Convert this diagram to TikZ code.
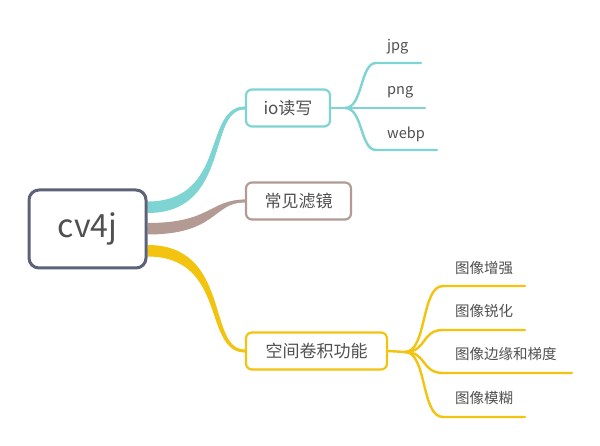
\documentclass[tikz,border=0pt]{standalone}
\usepackage{fontspec}
\setmainfont{Noto Sans CJK SC}
\usetikzlibrary{backgrounds}
\definecolor{cteal}{HTML}{7DD4D2}
\definecolor{cbrown}{HTML}{B39A92}
\definecolor{cyel}{HTML}{F2C30F}
\definecolor{croot}{HTML}{5C6277}
\definecolor{ctext}{HTML}{505050}
\tikzset{
  rootbox/.style={draw=croot, line width=3pt, rounded corners=10pt, fill=white,
    minimum width=117pt, minimum height=78pt, text=ctext, font=\fontsize{32}{32}\selectfont},
  childbox/.style={line width=2.2pt, rounded corners=6pt, fill=white, text=ctext,
    minimum height=37pt, font=\fontsize{17}{17}\selectfont},
  leaftext/.style={anchor=west, inner sep=0pt, text=ctext, font=\fontsize{14.5}{14.5}\selectfont},
  branch/.style={line width=2.4pt, line cap=round},
  trunk/.style={line width=2.8pt},
}
\begin{document}
\begin{tikzpicture}[x=1pt,y=-1pt]
\useasboundingbox (0,0) rectangle (600,446);
% nodes
\node[rootbox] (root) at (87.5,229) {cv4j};
\node[childbox, draw=cteal, minimum width=84pt] (io) at (288,108) {io读写};
\node[childbox, draw=cbrown, minimum width=105pt] (flt) at (298.5,201) {常见滤镜};
\node[childbox, draw=cyel, minimum width=141pt] (conv) at (316.5,351) {空间卷积功能};
% leaf texts
\node[leaftext] (jpg) at (387,47) {jpg};
\node[leaftext] (png) at (387,92) {png};
\node[leaftext] (webp) at (387,134) {webp};
\node[leaftext] (enh) at (455,268) {图像增强};
\node[leaftext] (shp) at (455,311) {图像锐化};
\node[leaftext] (edg) at (455,354) {图像边缘和梯度};
\node[leaftext] (blr) at (455,398) {图像模糊};
% coordinates for leaf lines
\coordinate (iob) at (345,108);
\coordinate (jpgs) at (376,63);  \coordinate (jpge) at (421,63);
\coordinate (pnge) at (425,108);
\coordinate (webs) at (376,150); \coordinate (webe) at (437,150);
\coordinate (cvb) at (405,352);
\coordinate (enhs) at (443,286); \coordinate (enhe) at (525,286);
\coordinate (shps) at (443,330); \coordinate (shpe) at (525,330);
\coordinate (edgs) at (443,373); \coordinate (edge) at (572,373);
\coordinate (blrs) at (443,417); \coordinate (blre) at (525,417);
\begin{pgfonlayer}{background}
\fill[white] (0,0) rectangle (600,446);
% tapered main branches: centre stroke plus tapering wedge
\draw[trunk, cteal] ([yshift=22pt]root.east) .. controls +(80,0) and +(-41,0) .. (io.west);
\fill[cteal] ([yshift=27.5pt]root.east) .. controls +(80,0) and +(-42,0) .. ([yshift=1.3pt]io.west)
  -- ([yshift=-1.3pt]io.west) .. controls +(-38,0) and +(84,0) .. ([yshift=16pt]root.east) -- cycle;
\draw[trunk, cbrown] (root.east) .. controls +(64,0) and +(-34,0) .. (flt.west);
\fill[cbrown] ([yshift=6pt]root.east) .. controls +(64,0) and +(-36,0) .. ([yshift=1.3pt]flt.west)
  -- ([yshift=-1.3pt]flt.west) .. controls +(-32,0) and +(70,0) .. ([yshift=-5.5pt]root.east) -- cycle;
\draw[trunk, cyel] ([yshift=-22pt]root.east) .. controls +(80,0) and +(-41,0) .. (conv.west);
\fill[cyel] ([yshift=-16pt]root.east) .. controls +(84,0) and +(-38,0) .. ([yshift=1.3pt]conv.west)
  -- ([yshift=-1.3pt]conv.west) .. controls +(-42,0) and +(80,0) .. ([yshift=-27.5pt]root.east) -- cycle;
% io leaves
\draw[branch, cteal, line cap=butt] (io.east) -- (iob);
\draw[branch, cteal] (iob) .. controls +(18,0) and +(-16,0) .. (jpgs) -- (jpge);
\draw[branch, cteal] (iob) -- (pnge);
\draw[branch, cteal] (iob) .. controls +(18,0) and +(-16,0) .. (webs) -- (webe);
% conv leaves
\draw[branch, cyel, line cap=butt] (conv.east) -- (cvb);
\draw[branch, cyel] (cvb) .. controls +(22,0) and +(-22,0) .. (enhs) -- (enhe);
\draw[branch, cyel] (cvb) .. controls +(22,0) and +(-22,0) .. (shps) -- (shpe);
\draw[branch, cyel] (cvb) .. controls +(22,0) and +(-22,0) .. (edgs) -- (edge);
\draw[branch, cyel] (cvb) .. controls +(22,0) and +(-22,0) .. (blrs) -- (blre);
\end{pgfonlayer}
\end{tikzpicture}
\end{document}
